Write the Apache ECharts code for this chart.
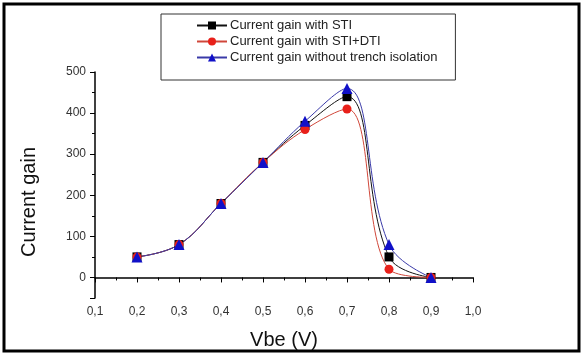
<!DOCTYPE html>
<html>
<head>
<meta charset="utf-8">
<script src="https://cdn.jsdelivr.net/npm/echarts@6/dist/echarts.min.js"></script>
<style>
html, body { margin: 0; padding: 0; background: #fff; }
#main { width: 584px; height: 356px; }
</style>
</head>
<body>
<div id="main"></div>
<script>
// Vbe (V)
var vbe = [0.2, 0.3, 0.4, 0.5, 0.6, 0.7, 0.8, 0.9];
// current gain
var gainSTI = [50, 80, 180, 280, 370, 440, 50, 0];
var gainSTIDTI = [50, 80, 180, 280, 360, 410, 20, 0];
var gainNoTrench = [50, 80, 180, 280, 380, 460, 80, 0];
var seriesNames = ['Current gain with STI', 'Current gain with STI+DTI', 'Current gain without trench isolation'];

function pairs(ys) {
    return vbe.map(function (x, i) { return [x, ys[i]]; });
}

var myChart = echarts.init(document.getElementById('main'));

var axisText = { color: '#333', fontSize: 12, fontFamily: 'Liberation Sans' };

var option = {
    animation: false,
    textStyle: { fontFamily: 'Liberation Sans' },
    graphic: [{
        type: 'rect',
        shape: { x: 4, y: 4, width: 575, height: 347 },
        style: { fill: 'none', stroke: '#000', lineWidth: 3 }
    }],
    legend: {
        orient: 'vertical',
        left: 161,
        top: 14,
        width: 298,
        padding: [5, 18, 16, 35],
        itemGap: 3,
        itemWidth: 30,
        itemHeight: 10,
        borderColor: '#333',
        borderWidth: 1,
        textStyle: { fontSize: 13, color: '#222', padding: [0, 0, 0, -2] },
        data: seriesNames
    },
    grid: { left: 95, top: 72, right: 111, bottom: 58, containLabel: false },
    xAxis: {
        type: 'value',
        min: 0.1,
        max: 1.0,
        interval: 0.1,
        name: 'Vbe (V)',
        nameLocation: 'middle',
        nameGap: 32,
        nameTextStyle: { fontSize: 20, color: '#111' },
        splitLine: { show: false },
        axisLine: { lineStyle: { color: '#000', width: 1.5 } },
        axisTick: { show: true, inside: false, length: 5, lineStyle: { color: '#000' } },
        minorTick: { show: true, splitNumber: 2, length: 3, lineStyle: { color: '#000' } },
        axisLabel: Object.assign({
            formatter: function (v) { return v.toFixed(1).replace('.', ','); },
            margin: 8
        }, axisText)
    },
    yAxis: {
        type: 'value',
        min: -50,
        max: 500,
        splitNumber: 5,
        name: 'Current gain',
        nameLocation: 'middle',
        nameGap: 56,
        nameTextStyle: { fontSize: 20, color: '#111', padding: [0, 34, 0, 0] },
        splitLine: { show: false },
        axisLine: { show: true, lineStyle: { color: '#000', width: 1.5 } },
        axisTick: { show: true, inside: false, length: 5, lineStyle: { color: '#000' } },
        minorTick: { show: true, splitNumber: 2, length: 3, lineStyle: { color: '#000' } },
        axisLabel: Object.assign({
            showMinLabel: false,
            formatter: function (v) { return v < 0 ? '' : String(v); },
            margin: 9
        }, axisText)
    },
    series: [
        {
            name: seriesNames[0],
            type: 'line',
            smooth: 0.4,
            symbol: 'rect',
            symbolSize: 9,
            itemStyle: { color: '#000' },
            lineStyle: { color: '#111', width: 1 },
            data: pairs(gainSTI)
        },
        {
            name: seriesNames[1],
            type: 'line',
            smooth: 0.4,
            symbol: 'circle',
            symbolSize: 9,
            itemStyle: { color: '#e8201a' },
            lineStyle: { color: '#d0473a', width: 1 },
            data: pairs(gainSTIDTI)
        },
        {
            name: seriesNames[2],
            type: 'line',
            smooth: 0.4,
            symbol: 'triangle',
            symbolSize: 11,
            itemStyle: { color: '#1010c8' },
            lineStyle: { color: '#3a3aa8', width: 1 },
            data: pairs(gainNoTrench)
        }
    ]
};

myChart.setOption(option);
</script>
</body>
</html>
